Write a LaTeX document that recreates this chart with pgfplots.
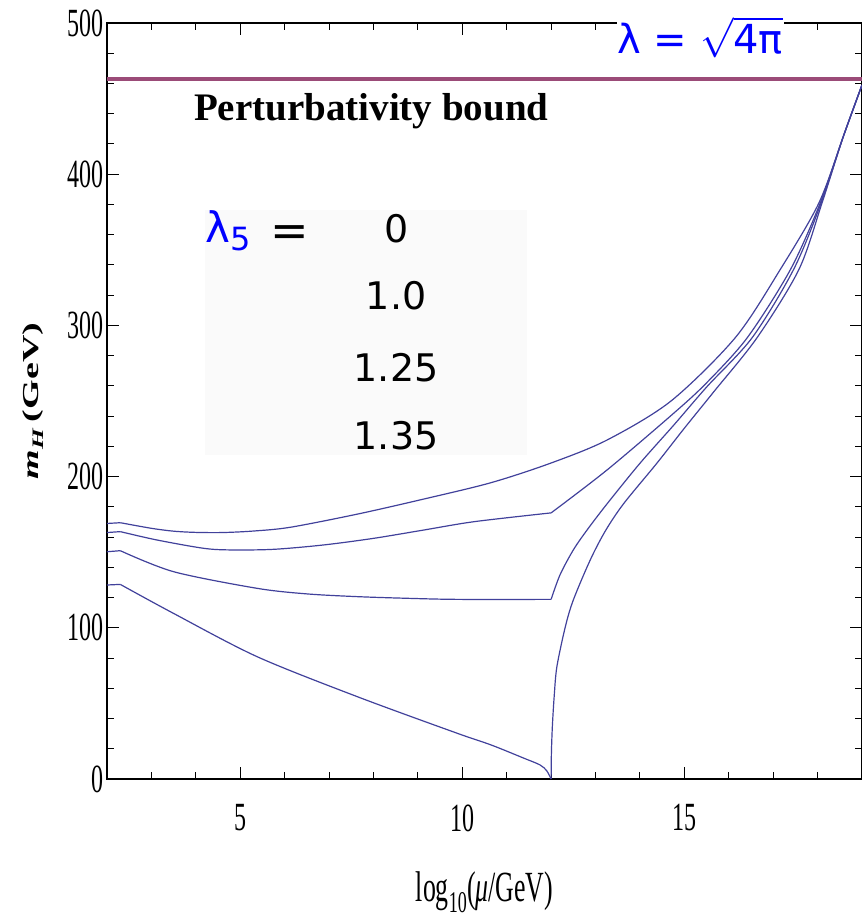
\documentclass[border=0pt]{standalone}
\usepackage{pgfplots}
\pgfplotsset{compat=1.18}
\usepackage{fontspec}
\setmainfont{Liberation Serif}
\newfontfamily\sqserif[FakeStretch=0.6]{Liberation Serif}
\newfontfamily\dejavu{DejaVu Sans}
\definecolor{curve}{RGB}{65,65,155}
\definecolor{bound}{RGB}{155,75,120}
\definecolor{boxbg}{RGB}{250,250,250}
\pgfplotsset{crv/.style={curve, line width=1.2pt, smooth, tension=0.5, no markers},
             seg/.style={curve, line width=1.2pt, sharp plot, no markers}}
\begin{document}
\begin{tikzpicture}
\path[use as bounding box] (0,0) rectangle (862pt,919pt);
\begin{axis}[
  at={(107pt,140pt)}, anchor=south west,
  scale only axis, width=755pt, height=756pt,
  xmin=2, xmax=19, ymin=0, ymax=500,
  xtick={5,10,15}, ytick={0,100,...,500},
  minor xtick={3,4,6,7,8,9,11,12,13,14,16,17,18},
  minor ytick={20,40,...,480},
  tick align=inside,
  major tick length=12pt, minor tick length=7pt,
  tick style={black, line width=1pt},
  axis line style={line width=1.4pt},
  clip=false,
  /pgf/number format/assume math mode=true,
  ticklabel style={font=\sqserif\fontsize{40}{40}\selectfont},
  xticklabel style={yshift=-22pt},
  xlabel={\scalebox{0.6}[1]{\fontsize{43}{43}\selectfont log\textsubscript{10}({\itshape μ}/GeV)}},
  xlabel style={at={(axis description cs:0.5,0)}, anchor=center, yshift=-113pt},
  ylabel={\scalebox{1}[0.6]{\fontsize{38}{38}\selectfont\bfseries{\itshape m}\textsubscript{\itshape H}\,(GeV)}},
  ylabel style={at={(axis description cs:-0.098,0.5)}, anchor=center},
]
\fill[boxbg] (axis cs:4.21,214.3) rectangle (axis cs:11.46,376.3);

\addplot[bound, line width=4pt, sharp plot, no markers] coordinates {(2,463) (19,463)};

% lambda_5 = 0
\addplot[seg] coordinates {(2.0,169) (2.3,169.5)};
\addplot[crv] coordinates {
(2.3,169.5) (3.0,165.8) (3.5,163.9) (4.0,163.1) (4.6,163.0) (5.3,164.0) (6.13,166.5)
(7.64,175.2) (9.14,185.2) (10.65,196) (12.0,209) (13.26,224.2)
(14.7,250) (16.15,292) (17.16,337) (18.03,381) (18.58,425) (19.0,459)};

% lambda_5 = 1.0
\addplot[seg] coordinates {(2.0,163) (2.3,163.6)};
\addplot[crv] coordinates {
(2.3,163.6) (3.12,158.1) (4.17,152.6) (4.78,151.5) (5.75,151.9) (6.88,154.8)
(8.01,159.2) (9.14,164.7) (10.27,170.2) (12.0,176)};
\addplot[crv] coordinates {
(12.0,176) (13.26,204.4) (14.76,241.9) (15.5,262) (16.42,292) (17.39,337)
(18.06,381) (18.58,425) (19.0,459)};

% lambda_5 = 1.25
\addplot[seg] coordinates {(2.0,150.3) (2.3,151)};
\addplot[crv] coordinates {
(2.3,151) (3.5,137.1) (5.38,126.1) (6.51,122.4) (7.64,120.6) (8.77,119.5)
(9.89,118.8) (12.0,118.8)};
\addplot[crv] coordinates {
(12.0,118.8) (12.2,135) (12.5,151.5) (12.81,164.7) (13.26,182)
(14.0,208.8) (14.76,234) (15.51,259.5) (16.53,292) (17.46,337) (18.08,381)
(18.58,425) (19.0,459)};

% lambda_5 = 1.35
\addplot[seg] coordinates {(2.0,128.3) (2.3,128.7)};
\addplot[crv] coordinates {
(2.3,128.7) (3.5,109.5) (5.38,80.9) (7.64,54.4) (9.89,30.2) (10.65,22.5)
(11.4,13.6) (11.75,9.3) (11.9,5.5) (12.0,0)};
\addplot[crv] coordinates {
(12.0,0) (12.003,11) (12.01,21)
(12.03,36) (12.07,55) (12.13,74.3) (12.32,100.7) (12.5,118.4) (12.88,144.8)
(13.22,164) (13.63,182) (14.38,208.8) (15.0,232) (15.66,256) (16.64,292)
(17.58,337) (18.1,381) (18.58,425) (19.0,459)};

\node[anchor=base, font=\bfseries\fontsize{39}{39}\selectfont] at (axis cs:7.95,435.8) {Perturbativity bound};

\node[fill=white, inner sep=1pt, text=blue, anchor=base]
  at (axis cs:15.36,479.5) {\scalebox{4.0}{\dejavu\fontsize{10}{12}\selectfont λ = $\sqrt{\mbox{4π}}$}};

\node[anchor=base, text=blue, font=\dejavu\fontsize{42}{42}\selectfont]
  at (axis cs:4.73,354.5) {λ\raisebox{-8pt}{\fontsize{32}{32}\selectfont 5}};
\node[anchor=base, font=\dejavu\fontsize{46}{46}\selectfont] at (axis cs:6.12,352) {=};
\node[anchor=base, font=\dejavu\fontsize{38}{38}\selectfont] at (axis cs:8.51,354.5) {0};
\node[anchor=base, font=\dejavu\fontsize{38}{38}\selectfont] at (axis cs:8.51,310.2) {1.0};
\node[anchor=base, font=\dejavu\fontsize{38}{38}\selectfont] at (axis cs:8.51,262.6) {1.25};
\node[anchor=base, font=\dejavu\fontsize{38}{38}\selectfont] at (axis cs:8.51,217.6) {1.35};
\end{axis}
\end{tikzpicture}
\end{document}
